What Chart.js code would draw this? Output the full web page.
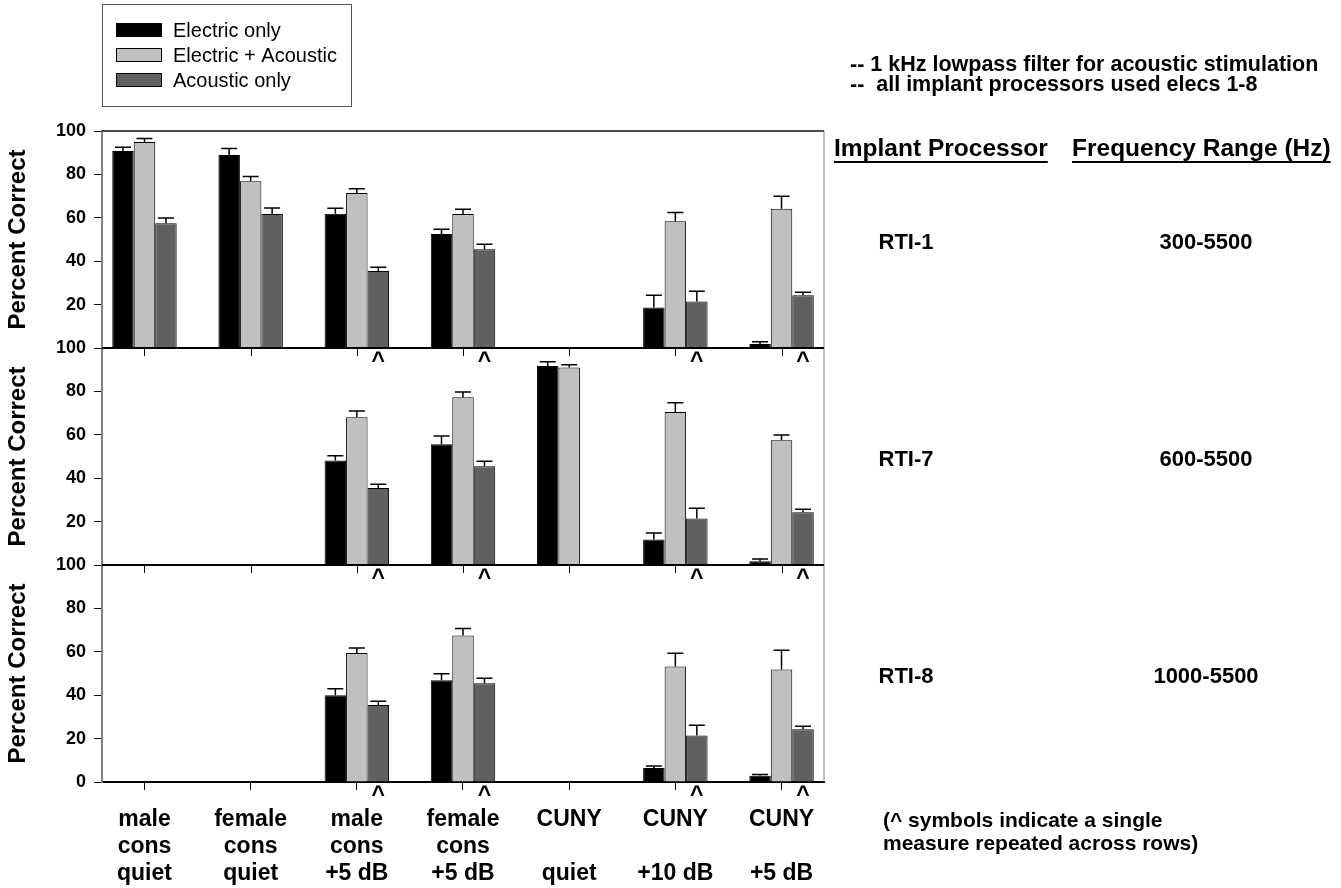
<!DOCTYPE html>
<html>
<head>
<meta charset="utf-8">
<script src="https://cdn.jsdelivr.net/npm/chart.js@4.4.1/dist/chart.umd.min.js"></script>
<style>
  html, body { margin: 0; padding: 0; background: #fff; }
  #wrap { position: relative; width: 1341px; height: 888px; }
</style>
</head>
<body>
<div id="wrap"><canvas id="chart" width="1341" height="888"></canvas></div>
<script>
const categories = [
  ['male', 'cons', 'quiet'],
  ['female', 'cons', 'quiet'],
  ['male', 'cons', '+5 dB'],
  ['female', 'cons', '+5 dB'],
  ['CUNY', '', 'quiet'],
  ['CUNY', '', '+10 dB'],
  ['CUNY', '', '+5 dB'],
];
const seriesNames = ['Electric only', 'Electric + Acoustic', 'Acoustic only'];
const seriesColors = ['#000000', '#c0c0c0', '#606060'];
const processors = ['RTI-1', 'RTI-7', 'RTI-8'];
const freqRanges = ['300-5500', '600-5500', '1000-5500'];
const yTicks = [0, 20, 40, 60, 80, 100];

// mean percent correct (null = condition not run)
const rti1Electric = [90.8, 88.9, 61.9, 52.5, null, 18.7, 1.8];
const rti1Combined = [94.9, 76.8, 71.4, 61.7, null, 58.4, 64.2];
const rti1Acoustic = [57.5, 61.7, 35.5, 45.5, null, 21.4, 24.3];

const rti7Electric = [null, null, 48.1, 55.6, 91.7, 11.8, 1.7];
const rti7Combined = [null, null, 68.1, 77.3, 91.0, 70.5, 57.5];
const rti7Acoustic = [null, null, 35.5, 45.5, null, 21.4, 24.3];

const rti8Electric = [null, null, 40.0, 46.9, null, 6.5, 2.9];
const rti8Combined = [null, null, 59.4, 67.5, null, 53.2, 51.8];
const rti8Acoustic = [null, null, 35.5, 45.5, null, 21.4, 24.3];

// standard error, drawn upward only
const rti1ElectricErr = [1.7, 3.0, 2.5, 2.2, null, 5.6, 1.1];
const rti1CombinedErr = [1.7, 2.2, 2.0, 2.2, null, 4.0, 5.7];
const rti1AcousticErr = [2.4, 2.8, 1.7, 2.3, null, 4.7, 1.4];

const rti7ElectricErr = [null, null, 2.3, 3.8, 2.0, 2.9, 1.1];
const rti7CombinedErr = [null, null, 2.9, 2.4, 1.3, 4.3, 2.4];
const rti7AcousticErr = [null, null, 1.7, 2.3, null, 4.7, 1.4];

const rti8ElectricErr = [null, null, 3.0, 3.0, null, 0.9, 0.6];
const rti8CombinedErr = [null, null, 2.4, 3.2, null, 6.1, 8.9];
const rti8AcousticErr = [null, null, 1.7, 2.3, null, 4.7, 1.4];

// acoustic-only score is one measure shown in every row
const repeatedAcoustic = [false, false, true, true, false, true, true];

const panels = [
  [[rti1Electric, rti1ElectricErr], [rti1Combined, rti1CombinedErr], [rti1Acoustic, rti1AcousticErr]],
  [[rti7Electric, rti7ElectricErr], [rti7Combined, rti7CombinedErr], [rti7Acoustic, rti7AcousticErr]],
  [[rti8Electric, rti8ElectricErr], [rti8Combined, rti8CombinedErr], [rti8Acoustic, rti8AcousticErr]],
];

const FONT = '"Liberation Sans", Arial, sans-serif';
Chart.defaults.font.family = FONT;
Chart.defaults.color = '#000';

const datasets = [];
panels.forEach((series, p) => {
  series.forEach(([vals, errs], s) => {
    datasets.push({
      label: seriesNames[s],
      data: vals.map((v, i) => ({ x: i + 1, y: v })),
      err: errs,
      yAxisID: 'y' + p,
      stack: 's' + s,
      panel: p,
      series: s,
      backgroundColor: seriesColors[s],
      borderColor: '#000',
      borderWidth: 1,
      categoryPercentage: 0.607,
      barPercentage: 1.0,
    });
  });
});

function yAxis(p) {
  return {
    type: 'linear',
    position: 'left',
    stack: 'panels',
    stackWeight: 1,
    weight: 3 - p,
    stacked: false,
    min: 0,
    max: 100,
    afterBuildTicks: (s) => { s.ticks = yTicks.map((v) => ({ value: v })); },
    afterFit: (s) => { s.width = 102; },
    ticks: {
      callback: (v) => (v === 0 && p < 2 ? '' : String(v)),
      font: { size: 18, weight: 'bold' },
      color: '#000',
      padding: 8,
    },
    grid: { drawOnChartArea: false, drawTicks: true, tickLength: 8, color: '#000' },
    border: { color: '#808080', width: 2 },
    title: {
      display: true,
      text: 'Percent Correct',
      font: { size: 24, weight: 'bold' },
      color: '#000',
      padding: { top: 4, bottom: 0 },
    },
  };
}

function text(ctx, str, x, y, font, align) {
  ctx.font = font;
  ctx.textAlign = align || 'left';
  ctx.textBaseline = 'middle';
  ctx.fillStyle = '#000';
  ctx.fillText(str, x, y);
}

const extras = {
  id: 'extras',
  afterDatasetsDraw(chart) {
    const { ctx, chartArea: area, scales } = chart;
    ctx.save();

    // error bars
    ctx.strokeStyle = '#000';
    ctx.lineWidth = 1.5;
    chart.data.datasets.forEach((ds, di) => {
      const meta = chart.getDatasetMeta(di);
      const ys = scales[ds.yAxisID];
      ds.data.forEach((pt, i) => {
        const e = ds.err[i];
        if (pt.y == null || e == null) return;
        const bar = meta.data[i];
        const yTop = ys.getPixelForValue(pt.y + e);
        ctx.beginPath();
        ctx.moveTo(bar.x, bar.y);
        ctx.lineTo(bar.x, yTop);
        ctx.moveTo(bar.x - 8, yTop);
        ctx.lineTo(bar.x + 8, yTop);
        ctx.stroke();
      });
    });

    // frame: top and right edges
    ctx.lineWidth = 1.5;
    ctx.strokeStyle = '#111';
    ctx.beginPath();
    ctx.moveTo(area.left, area.top);
    ctx.lineTo(area.right, area.top);
    ctx.stroke();
    ctx.lineWidth = 1;
    ctx.strokeStyle = '#808080';
    ctx.beginPath();
    ctx.moveTo(area.right, area.top);
    ctx.lineTo(area.right, area.bottom);
    ctx.stroke();

    // baselines between rows, with category ticks
    for (let p = 0; p < 2; p++) {
      const y = scales['y' + p].bottom;
      ctx.strokeStyle = '#000';
      ctx.lineWidth = 2;
      ctx.beginPath();
      ctx.moveTo(area.left, y);
      ctx.lineTo(area.right, y);
      ctx.stroke();
      ctx.lineWidth = 1;
      categories.forEach((c, i) => {
        const x = Math.round(scales.x.getPixelForValue(i + 1)) + 0.5;
        ctx.beginPath();
        ctx.moveTo(x, y);
        ctx.lineTo(x, y + 8);
        ctx.stroke();
      });
    }

    // ^ marks under repeated acoustic-only bars
    panels.forEach((series, p) => {
      const di = chart.data.datasets.findIndex((d) => d.panel === p && d.series === 2);
      const meta = chart.getDatasetMeta(di);
      const y = scales['y' + p].bottom;
      repeatedAcoustic.forEach((rep, i) => {
        if (!rep) return;
        ctx.font = 'bold 23px ' + FONT;
        ctx.textAlign = 'center';
        ctx.textBaseline = 'alphabetic';
        ctx.fillStyle = '#000';
        ctx.fillText('^', meta.data[i].x, y + 20);
      });
    });

    // legend box
    ctx.lineWidth = 1;
    ctx.strokeStyle = '#555';
    ctx.strokeRect(102.5, 4.5, 249, 102);
    seriesNames.forEach((name, s) => {
      const cy = 30 + s * 25;
      ctx.fillStyle = seriesColors[s];
      ctx.fillRect(116, cy - 7, 46, 14);
      ctx.strokeStyle = '#000';
      ctx.strokeRect(116.5, cy - 6.5, 45, 13);
      text(ctx, name, 173, cy + 1, '20px ' + FONT);
    });

    // notes on the right
    text(ctx, '-- 1 kHz lowpass filter for acoustic stimulation', 850, 65, 'bold 21.5px ' + FONT);
    text(ctx, '--  all implant processors used elecs 1-8', 850, 85, 'bold 21.5px ' + FONT);

    const headFont = 'bold 24.5px ' + FONT;
    [['Implant Processor', 834], ['Frequency Range (Hz)', 1072]].forEach(([h, x]) => {
      text(ctx, h, x, 149, headFont);
      const w = ctx.measureText(h).width;
      ctx.strokeStyle = '#000';
      ctx.lineWidth = 2;
      ctx.beginPath();
      ctx.moveTo(x, 162);
      ctx.lineTo(x + w, 162);
      ctx.stroke();
    });

    processors.forEach((name, p) => {
      const ys = scales['y' + p];
      const cy = (ys.top + ys.bottom) / 2 + 3;
      text(ctx, name, 906, cy, 'bold 22px ' + FONT, 'center');
      text(ctx, freqRanges[p], 1206, cy, 'bold 22px ' + FONT, 'center');
    });

    text(ctx, '(^ symbols indicate a single', 883, 821, 'bold 21px ' + FONT);
    text(ctx, 'measure repeated across rows)', 883, 844, 'bold 21px ' + FONT);

    ctx.restore();
  },
};

new Chart(document.getElementById('chart').getContext('2d'), {
  type: 'bar',
  data: { datasets },
  options: {
    responsive: false,
    animation: false,
    events: [],
    layout: { padding: { top: 131, right: 517, bottom: 0, left: 0 } },
    plugins: {
      legend: { display: false },
      tooltip: { enabled: false },
    },
    scales: {
      x: {
        type: 'linear',
        offset: false,
        min: 0.6,
        max: 7.4,
        afterBuildTicks: (s) => { s.ticks = categories.map((c, i) => ({ value: i + 1 })); },
        afterFit: (s) => { s.height = 106; },
        ticks: {
          callback: (v) => categories[v - 1],
          font: { size: 23, weight: 'bold', lineHeight: 1.18 },
          color: '#000',
          padding: 16,
          maxRotation: 0,
          autoSkip: false,
        },
        grid: { offset: false, drawOnChartArea: false, drawTicks: true, tickLength: 8, color: '#000' },
        border: { color: '#000', width: 2 },
      },
      y0: yAxis(0),
      y1: yAxis(1),
      y2: yAxis(2),
    },
  },
  plugins: [extras],
});
</script>
</body>
</html>
